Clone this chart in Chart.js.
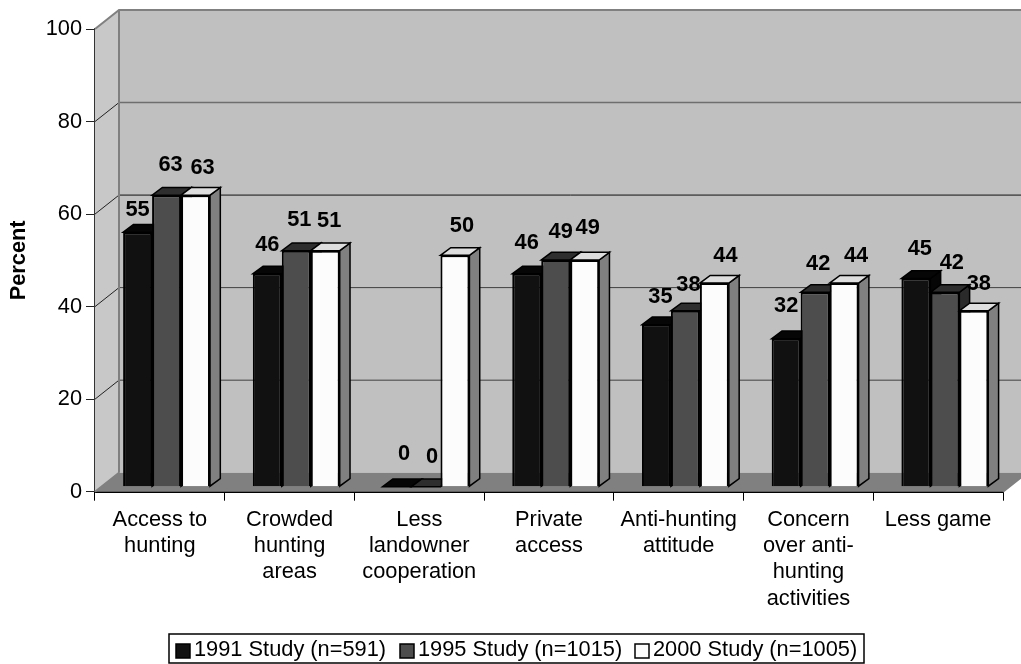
<!DOCTYPE html>
<html>
<head>
<meta charset="utf-8">
<style>
  html, body { margin: 0; padding: 0; background: #fff; }
  canvas { display: block; }
</style>
<script src="https://cdn.jsdelivr.net/npm/chart.js@4/dist/chart.umd.min.js"></script>
</head>
<body>
<canvas id="chart" width="1021" height="664"></canvas>
<script>
const categories = [
  ["Access to", "hunting"],
  ["Crowded", "hunting", "areas"],
  ["Less", "landowner", "cooperation"],
  ["Private", "access"],
  ["Anti-hunting", "attitude"],
  ["Concern", "over anti-", "hunting", "activities"],
  ["Less game"],
];
const study1991 = [55, 46, 0, 46, 35, 32, 45];
const study1995 = [63, 51, 0, 49, 38, 42, 42];
const study2000 = [63, 51, 50, 49, 44, 44, 38];
const yTicks = [0, 20, 40, 60, 80, 100];

const FONT = "'Liberation Sans', Arial, sans-serif";
const FONT_SIZE = 21.8;

// how the fake 3D is laid out, in pixels
const wallDepth = { x: 24, y: 19 };
const barShift = { x: 6.7, y: 5 };
const barDepth = { x: 10.3, y: 7.7 };

const faceColors = [
  { top: "#060606", side: "#060606" },
  { top: "#2e2e2e", side: "#2a2a2a" },
  { top: "#dedede", side: "#808080" },
];
// gridlines on the back wall do not all come out the same in the original
const backGridStyles = {
  20: { color: "#6a6a6a", width: 1.5 },
  40: { color: "#404040", width: 1 },
  60: { color: "#111111", width: 1 },
  80: { color: "#6e6e6e", width: 1.5 },
};
// value labels sit by hand in the original, so each one has its own nudge from the bar top
const labelNudges = [
  [[0, -22], [0, -29], [7, -33], [0, -31], [4, -28], [0, -33], [4, -29]],
  [[4, -30], [3, -31], [6, -30], [5, -28], [3, -26], [3, -28], [7, -29]],
  [[7, -27], [4, -30], [7, -29], [3, -32], [11, -27], [12, -27], [5, -27]],
];

function poly(ctx, points, fill, stroke, lineWidth) {
  ctx.beginPath();
  points.forEach(([x, y], i) => (i ? ctx.lineTo(x, y) : ctx.moveTo(x, y)));
  ctx.closePath();
  if (fill) {
    ctx.fillStyle = fill;
    ctx.fill();
  }
  if (stroke) {
    ctx.strokeStyle = stroke;
    ctx.lineWidth = lineWidth;
    ctx.stroke();
  }
}

// side wall, back wall, floor and the gridlines on them
const wallsPlugin = {
  id: "walls",
  beforeDatasetsDraw(chart) {
    const { ctx, chartArea: area, scales } = chart;
    const d = wallDepth;
    ctx.save();
    poly(ctx, [[area.left + d.x, area.top - d.y], [area.right + d.x, area.top - d.y],
      [area.right + d.x, area.bottom - d.y], [area.left + d.x, area.bottom - d.y]], "#c0c0c0");
    poly(ctx, [[area.left, area.top], [area.left + d.x, area.top - d.y],
      [area.left + d.x, area.bottom - d.y], [area.left, area.bottom]], "#c8c8c8");
    poly(ctx, [[area.left, area.bottom], [area.left + d.x, area.bottom - d.y],
      [area.right + d.x, area.bottom - d.y], [area.right, area.bottom]], "#808080");

    yTicks.slice(1, -1).forEach((v) => {
      const y = scales.y.getPixelForValue(v);
      ctx.beginPath();
      ctx.moveTo(area.left, y);
      ctx.lineTo(area.left + d.x, y - d.y);
      ctx.strokeStyle = "#222";
      ctx.lineWidth = 1;
      ctx.stroke();
      ctx.beginPath();
      ctx.moveTo(area.left + d.x, y - d.y);
      ctx.lineTo(area.right + d.x, y - d.y);
      ctx.strokeStyle = backGridStyles[v].color;
      ctx.lineWidth = backGridStyles[v].width;
      ctx.stroke();
    });

    ctx.strokeStyle = "#808080";
    ctx.lineWidth = 2;
    ctx.beginPath();
    ctx.moveTo(area.left, area.top);
    ctx.lineTo(area.left + d.x, area.top - d.y);
    ctx.lineTo(area.right + d.x, area.top - d.y);
    ctx.moveTo(area.left + d.x, area.top - d.y);
    ctx.lineTo(area.left + d.x, area.bottom - d.y);
    ctx.moveTo(area.left, area.bottom);
    ctx.lineTo(area.left + d.x, area.bottom - d.y);
    ctx.moveTo(area.right, area.bottom);
    ctx.lineTo(area.right + d.x, area.bottom - d.y);
    ctx.stroke();
    ctx.restore();

    // top and side faces of the bars, then shift so the library's bars land on them
    ctx.save();
    ctx.translate(barShift.x, -barShift.y);
    chart.data.datasets.forEach((ds, i) => {
      chart.getDatasetMeta(i).data.forEach((bar) => {
        const { x, y, base, width } = bar.getProps(["x", "y", "base", "width"]);
        const l = x - width / 2;
        const r = x + width / 2;
        const b = barDepth;
        poly(ctx, [[r, y], [r + b.x, y - b.y], [r + b.x, base - b.y], [r, base]], faceColors[i].side, "#000", 1.5);
        poly(ctx, [[l, y], [r, y], [r + b.x, y - b.y], [l + b.x, y - b.y]], faceColors[i].top, "#000", 1.5);
      });
    });
  },
  afterDatasetsDraw(chart) {
    const { ctx } = chart;
    ctx.restore();

    // value labels over the bars
    ctx.save();
    ctx.font = "bold " + FONT_SIZE + "px " + FONT;
    ctx.fillStyle = "#000";
    ctx.textAlign = "center";
    ctx.textBaseline = "middle";
    chart.data.datasets.forEach((ds, i) => {
      chart.getDatasetMeta(i).data.forEach((bar, j) => {
        const [nx, ny] = labelNudges[i][j];
        ctx.fillText(ds.data[j], bar.x + barShift.x + nx, bar.y - barShift.y + ny);
      });
    });
    ctx.restore();
  },
  // boxed legend at the bottom
  afterDraw(chart) {
    const { ctx } = chart;
    const frame = { x: 169, y: 634, w: 695, h: 29 };
    const keys = [176, 400, 635];
    ctx.save();
    ctx.strokeStyle = "#000";
    ctx.lineWidth = 1.5;
    ctx.strokeRect(frame.x, frame.y, frame.w, frame.h);
    ctx.font = FONT_SIZE + "px " + FONT;
    ctx.textBaseline = "middle";
    chart.data.datasets.forEach((ds, i) => {
      ctx.fillStyle = ds.backgroundColor;
      ctx.fillRect(keys[i], frame.y + 10, 14, 14);
      ctx.strokeRect(keys[i], frame.y + 10, 14, 14);
      ctx.fillStyle = "#000";
      ctx.fillText(ds.label, keys[i] + 18, frame.y + 16);
    });
    ctx.restore();
  },
};

function barDataset(label, data, color) {
  return {
    label,
    data,
    backgroundColor: color,
    borderColor: "#000",
    borderWidth: 2,
    categoryPercentage: 0.67,
    barPercentage: 1,
    clip: false,
  };
}

new Chart(document.getElementById("chart"), {
  type: "bar",
  data: {
    labels: categories,
    datasets: [
      barDataset("1991 Study (n=591)", study1991, "#111111"),
      barDataset("1995 Study (n=1015)", study1995, "#4d4d4d"),
      barDataset("2000 Study (n=1005)", study2000, "#fcfcfc"),
    ],
  },
  options: {
    responsive: false,
    animation: false,
    devicePixelRatio: 1,
    layout: { padding: { left: 0, right: 18, top: 29, bottom: 0 } },
    plugins: {
      legend: { display: false },
      tooltip: { enabled: false },
    },
    scales: {
      x: {
        grid: { drawOnChartArea: false, offset: true, color: "#000", tickColor: "#000", tickLength: 9, lineWidth: 1 },
        border: { color: "#000", width: 2 },
        ticks: { color: "#000", font: { family: FONT, size: FONT_SIZE, lineHeight: 1.207 }, maxRotation: 0, autoSkip: false, padding: 6 },
        afterFit(scale) { scale.height = 172.3; },
      },
      y: {
        min: 0,
        max: 100,
        afterBuildTicks(scale) { scale.ticks = yTicks.map((value) => ({ value })); },
        grid: { drawOnChartArea: false, color: "#000", tickColor: "#222", tickLength: 9, lineWidth: 1 },
        border: { color: "#333", width: 2 },
        ticks: { color: "#000", font: { family: FONT, size: FONT_SIZE }, padding: 4 },
        title: { display: true, text: "Percent", color: "#000", font: { family: FONT, size: FONT_SIZE, weight: "bold" }, padding: { top: 6, bottom: 0 } },
        afterFit(scale) { scale.width = 95; },
      },
    },
  },
  plugins: [wallsPlugin],
});
</script>
</body>
</html>
